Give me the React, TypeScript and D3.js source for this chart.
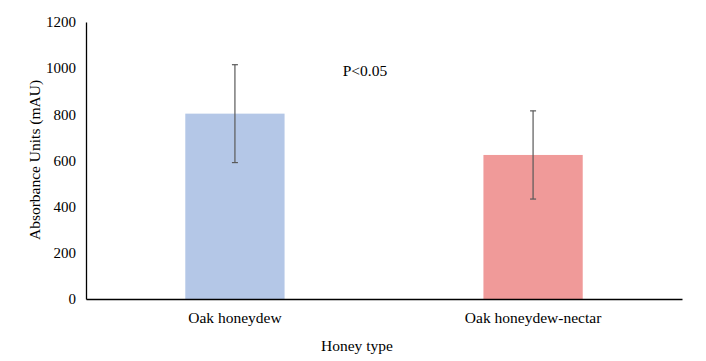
import React, { useRef, useEffect } from 'react';
import * as d3 from 'd3';

const categories = ['Oak honeydew', 'Oak honeydew-nectar'];
const means = [803, 624];
const errors = [212, 191];
const colors = ['#b4c7e7', '#f09a99'];
const yTicks = [0, 200, 400, 600, 800, 1000, 1200];

const App: React.FC = () => {
  const ref = useRef<SVGSVGElement | null>(null);

  useEffect(() => {
    if (!ref.current) return;
    const width = 706;
    const height = 361;
    const left = 86;
    const right = 682;
    const top = 22;
    const bottom = 299;
    const font = '"Liberation Serif", "Times New Roman", serif';

    const svg = d3.select(ref.current)
      .attr('width', width)
      .attr('height', height)
      .style('display', 'block')
      .style('background', '#fff');
    svg.selectAll('*').remove();

    const x = d3.scaleBand<string>()
      .domain(categories)
      .range([left, right])
      .paddingInner(0.667)
      .paddingOuter(0.333);

    const y = d3.scaleLinear().domain([0, 1200]).range([bottom, top]);

    const data = categories.map((c, i) => ({ c, v: means[i], e: errors[i], col: colors[i] }));

    // bars
    svg.selectAll('rect.bar')
      .data(data)
      .enter()
      .append('rect')
      .attr('class', 'bar')
      .attr('x', (d) => x(d.c) || 0)
      .attr('y', (d) => y(d.v))
      .attr('width', x.bandwidth())
      .attr('height', (d) => y(0) - y(d.v))
      .attr('fill', (d) => d.col);

    // error bars
    const eb = svg.selectAll('g.err').data(data).enter().append('g').attr('class', 'err')
      .attr('stroke', '#595959').attr('stroke-width', 1.2);
    const cx = (d: { c: string }) => (x(d.c) || 0) + x.bandwidth() / 2;
    eb.append('line')
      .attr('x1', cx).attr('x2', cx)
      .attr('y1', (d) => y(d.v + d.e)).attr('y2', (d) => y(d.v - d.e));
    eb.append('line')
      .attr('x1', (d) => cx(d) - 3).attr('x2', (d) => cx(d) + 3)
      .attr('y1', (d) => y(d.v + d.e)).attr('y2', (d) => y(d.v + d.e));
    eb.append('line')
      .attr('x1', (d) => cx(d) - 3).attr('x2', (d) => cx(d) + 3)
      .attr('y1', (d) => y(d.v - d.e)).attr('y2', (d) => y(d.v - d.e));

    // axes
    const yAxis = d3.axisLeft(y).tickValues(yTicks).tickFormat(d3.format('d')).tickSize(0).tickPadding(10);
    const gy = svg.append('g').attr('transform', `translate(${left},0)`).call(yAxis)
      .attr('font-family', font).attr('font-size', 15);
    gy.select('.domain').attr('stroke', '#000').attr('stroke-width', 1.3);
    gy.selectAll('text').attr('fill', '#000');

    const xAxis = d3.axisBottom(x).tickSize(0).tickPadding(13);
    const gx = svg.append('g').attr('transform', `translate(0,${bottom})`).call(xAxis)
      .attr('font-family', font).attr('font-size', 15.5);
    gx.select('.domain').attr('stroke', '#000').attr('stroke-width', 1.3);
    gx.selectAll('text').attr('fill', '#000');

    // titles
    svg.append('text')
      .attr('transform', `translate(40,160) rotate(-90)`)
      .attr('text-anchor', 'middle')
      .attr('font-family', font)
      .attr('font-size', 15.5)
      .text('Absorbance Units (mAU)');

    svg.append('text')
      .attr('x', 357)
      .attr('y', 351)
      .attr('text-anchor', 'middle')
      .attr('font-family', font)
      .attr('font-size', 15.5)
      .text('Honey type');

    svg.append('text')
      .attr('x', 365)
      .attr('y', 76)
      .attr('text-anchor', 'middle')
      .attr('font-family', font)
      .attr('font-size', 15.5)
      .text('P<0.05');
  }, []);

  return <svg ref={ref} style={{ position: 'absolute', left: 0, top: 0 }} />;
};

export default App;
